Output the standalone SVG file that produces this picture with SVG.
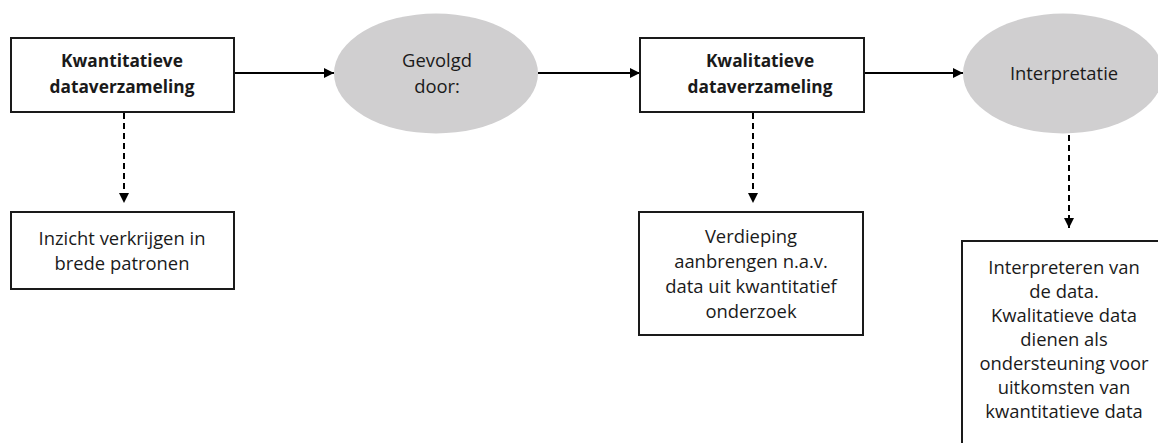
<svg xmlns="http://www.w3.org/2000/svg" width="1158" height="443" viewBox="0 0 1158 443">
<defs>
<style>
.box{fill:#fff;stroke:#1a1a1a;stroke-width:2}
.ell{fill:#d0cfd0;stroke:none}
.t{font-family:"Open Sans","Liberation Sans",sans-serif;font-size:18.4px;fill:#1a1a1a;text-anchor:middle}
.b{font-weight:bold;font-size:17.3px}
.solid{stroke:#000;stroke-width:2;fill:none}
.dash{stroke:#000;stroke-width:2;fill:none;stroke-dasharray:6 4}
</style>
<marker id="ah" viewBox="0 0 10 10" refX="10" refY="5" markerWidth="10" markerHeight="10" markerUnits="userSpaceOnUse" orient="auto">
<path d="M0,0 L10,5 L0,10 Z" fill="#000"/>
</marker>
</defs>
<rect width="1158" height="443" fill="#fff"/>
<g id="connectors">
<line class="solid" x1="234" y1="73" x2="334" y2="73" marker-end="url(#ah)"/>
<line class="solid" x1="538" y1="73" x2="640" y2="73" marker-end="url(#ah)"/>
<line class="solid" x1="864" y1="73" x2="963" y2="73" marker-end="url(#ah)"/>
<line class="dash" x1="124" y1="113" x2="124" y2="203" marker-end="url(#ah)"/>
<line class="dash" x1="753" y1="113" x2="753" y2="203" marker-end="url(#ah)"/>
<line class="dash" x1="1069" y1="135" x2="1069" y2="228" marker-end="url(#ah)"/>
</g>
<g id="kwantitatief">
<rect class="box" x="11" y="38" width="223" height="74"/>
<text class="t b" x="122" y="67">Kwantitatieve</text>
<text class="t b" x="122" y="93">dataverzameling</text>
</g>
<g id="gevolgd">
<ellipse class="ell" cx="436" cy="73.5" rx="102" ry="60"/>
<text class="t" x="437" y="67">Gevolgd</text>
<text class="t" x="437" y="93">door:</text>
</g>
<g id="kwalitatief">
<rect class="box" x="640" y="38" width="224" height="74"/>
<text class="t b" x="760" y="67">Kwalitatieve</text>
<text class="t b" x="760" y="93">dataverzameling</text>
</g>
<g id="interpretatie">
<ellipse class="ell" cx="1063" cy="73.5" rx="100" ry="60"/>
<text class="t" x="1064" y="80">Interpretatie</text>
</g>
<g id="inzicht">
<rect class="box" x="11" y="212" width="223" height="77"/>
<text class="t" x="122" y="245">Inzicht verkrijgen in</text>
<text class="t" x="122" y="270">brede patronen</text>
</g>
<g id="verdieping">
<rect class="box" x="639" y="212" width="224" height="123"/>
<text class="t" x="751" y="243">Verdieping</text>
<text class="t" x="751" y="268">aanbrengen n.a.v.</text>
<text class="t" x="751" y="293">data uit kwantitatief</text>
<text class="t" x="751" y="318">onderzoek</text>
</g>
<g id="interpreteren">
<rect class="box" x="962" y="241" width="204" height="220"/>
<text class="t" x="1064" y="274">Interpreteren van</text>
<text class="t" x="1064" y="298">de data.</text>
<text class="t" x="1064" y="322">Kwalitatieve data</text>
<text class="t" x="1064" y="346">dienen als</text>
<text class="t" x="1064" y="370">ondersteuning voor</text>
<text class="t" x="1064" y="394">uitkomsten van</text>
<text class="t" x="1064" y="418">kwantitatieve data</text>
</g>
</svg>
